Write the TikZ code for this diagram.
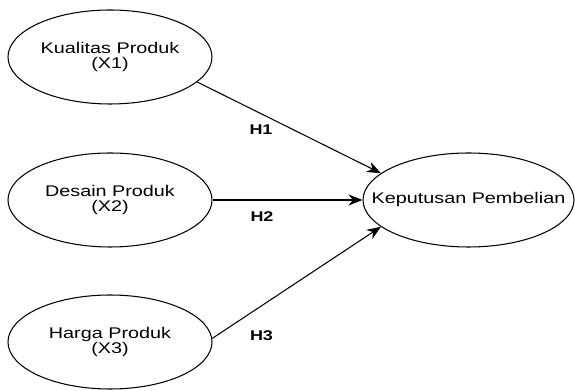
\documentclass[tikz,border=0pt]{standalone}
\usepackage{fontspec}
\setmainfont[FakeStretch=1.28]{Liberation Sans}
\usetikzlibrary{shapes.geometric, arrows.meta}

\begin{document}
\begin{tikzpicture}[
    variabel/.style={draw, line width=0.6pt, ellipse, inner ysep=0pt, inner xsep=-0.5cm,
        minimum width=4.08cm, minimum height=1.88cm, align=center,
        font=\fontsize{8.8}{8.6}\selectfont},
    link/.style={draw, line width=0.6pt, -{Stealth[length=2.8mm,width=2.2mm]}},
    hlabel/.style={font=\fontsize{8}{8}\selectfont\bfseries},
    scale=1.0
]

% ============================================================
% FRAME: 575x390 px at 0.02 cm per px
% ============================================================
\useasboundingbox (0,0) rectangle (11.5,7.8);

% ============================================================
% INDEPENDENT VARIABLES (left column, x=2.2)
% ============================================================
\node[variabel] (kualitas) at (2.2,6.66) {Kualitas Produk\\(X1)};
\node[variabel] (desain) at (2.2,3.8) {Desain Produk\\(X2)};
\node[variabel] (harga) at (2.2,0.96) {Harga Produk\\(X3)};

% ============================================================
% DEPENDENT VARIABLE
% ============================================================
\node[variabel, minimum width=4.22cm] (keputusan) at (9.37,3.8) {Keputusan Pembelian};

% ============================================================
% HYPOTHESES
% ============================================================
\draw[link] (kualitas.-16) -- (keputusan.163);
\draw[link] (desain) -- (keputusan);
\draw[link] (harga.2) -- (keputusan.-163);

\node[hlabel] (h1) at (5.22,5.2) {H1};
\node[hlabel] (h2) at (5.24,3.46) {H2};
\node[hlabel] (h3) at (5.23,1.08) {H3};

\end{tikzpicture}
\end{document}
